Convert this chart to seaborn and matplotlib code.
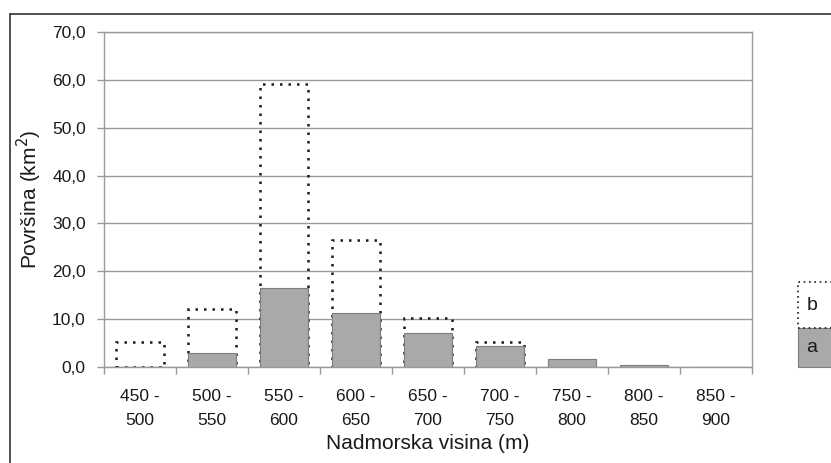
import matplotlib
matplotlib.use("Agg")
import matplotlib.pyplot as plt
from matplotlib.patches import Rectangle
from matplotlib.lines import Line2D
import numpy as np
import pandas as pd
import seaborn as sns

# Altitude classes (m) and areas (km²)
classes = ["450 -\n500", "500 -\n550", "550 -\n600", "600 -\n650", "650 -\n700",
           "700 -\n750", "750 -\n800", "800 -\n850", "850 -\n900"]
area_a = [0.0, 2.9, 16.6, 11.3, 7.2, 4.4, 1.7, 0.35, 0.0]
area_b = [5.2, 9.3, 42.5, 15.2, 3.1, 0.8, 0.0, 0.0, 0.0]
y_ticks = [0, 10, 20, 30, 40, 50, 60, 70]

df = pd.DataFrame({"klasa": classes, "a": area_a, "b": area_b})
# outline of a + b only where part b exists
df["ukupno"] = (df["a"] + df["b"]).where(df["b"] > 0)

sns.set_style("white")
plt.rcParams["font.family"] = ["Liberation Sans", "DejaVu Sans"]

fig = plt.figure(figsize=(8.31, 4.63), dpi=100)
ax = fig.add_axes([0.125, 0.2073, 0.78, 0.7236])

grid_col = "#9a9a9a"
for v in y_ticks:
    ax.axhline(v, color=grid_col, lw=1.0, zorder=0)

# total (a + b) as dotted outline, then a as grey fill over its lower part
sns.barplot(data=df, x="klasa", y="ukupno", ax=ax, fill=False, width=0.67,
            edgecolor="#1a1a1a", linewidth=1.8, linestyle=(0, (1, 2.4)),
            errorbar=None, zorder=2)
sns.barplot(data=df, x="klasa", y="a", ax=ax, color="#a9a9a9", width=0.67,
            saturation=1, edgecolor="#7d7d7d", linewidth=0.8,
            errorbar=None, zorder=3)

ax.set_xlim(-0.5, len(classes) - 0.5)
ax.set_ylim(0, 70)
ax.set_yticks(y_ticks)
ax.set_yticklabels([f"{v:.1f}".replace(".", ",") for v in y_ticks], fontsize=12.5)
ax.set_xticks(range(len(classes)))
ax.set_xticklabels(classes, fontsize=12.5, linespacing=1.75)
ax.set_xticks(np.arange(-0.5, len(classes)), minor=True)
ax.tick_params(axis="x", which="major", length=0, pad=16)
ax.tick_params(axis="x", which="minor", length=5, color=grid_col, width=1, direction="out")
ax.tick_params(axis="y", length=5, color=grid_col, width=1, direction="out", pad=8)
ax.tick_params(axis="both", which="both", labelcolor="#1a1a1a", bottom=True, left=True)
ax.tick_params(axis="x", which="minor", color=grid_col)

for side in ["left", "bottom", "right", "top"]:
    ax.spines[side].set_visible(True)
    ax.spines[side].set_color(grid_col)
    ax.spines[side].set_linewidth(1.0)
    ax.spines[side].set_zorder(5)

ax.set_xlabel("Nadmorska visina (m)", fontsize=15, labelpad=4, color="#1a1a1a")
ax.set_ylabel("Površina (km$^{2}$)", fontsize=15, labelpad=6, color="#1a1a1a")

# legend boxes at the right edge
W, H = 831, 463
def fx(px): return px / W
def fy(py): return 1 - py / H

fig.patches.append(Rectangle((fx(798), fy(367)), fx(40), (367 - 328) / H,
                             transform=fig.transFigure, facecolor="#a9a9a9",
                             edgecolor="#7d7d7d", lw=0.8))
fig.patches.append(Rectangle((fx(798), fy(328)), fx(40), (328 - 282) / H,
                             transform=fig.transFigure, facecolor="none",
                             edgecolor="#1a1a1a", lw=1.2, linestyle=(0, (1, 2.2))))
fig.text(fx(812), fy(306), "b", fontsize=14, ha="center", va="center", color="#1a1a1a")
fig.text(fx(812), fy(347), "a", fontsize=14, ha="center", va="center", color="#1a1a1a")

# figure frame (top and left edges)
fig.lines.append(Line2D([fx(10), 1], [fy(14), fy(14)], transform=fig.transFigure,
                        color="#333333", lw=1.2))
fig.lines.append(Line2D([fx(10), fx(10)], [fy(14), 0], transform=fig.transFigure,
                        color="#333333", lw=1.2))

fig.savefig("out.png", dpi=100)
